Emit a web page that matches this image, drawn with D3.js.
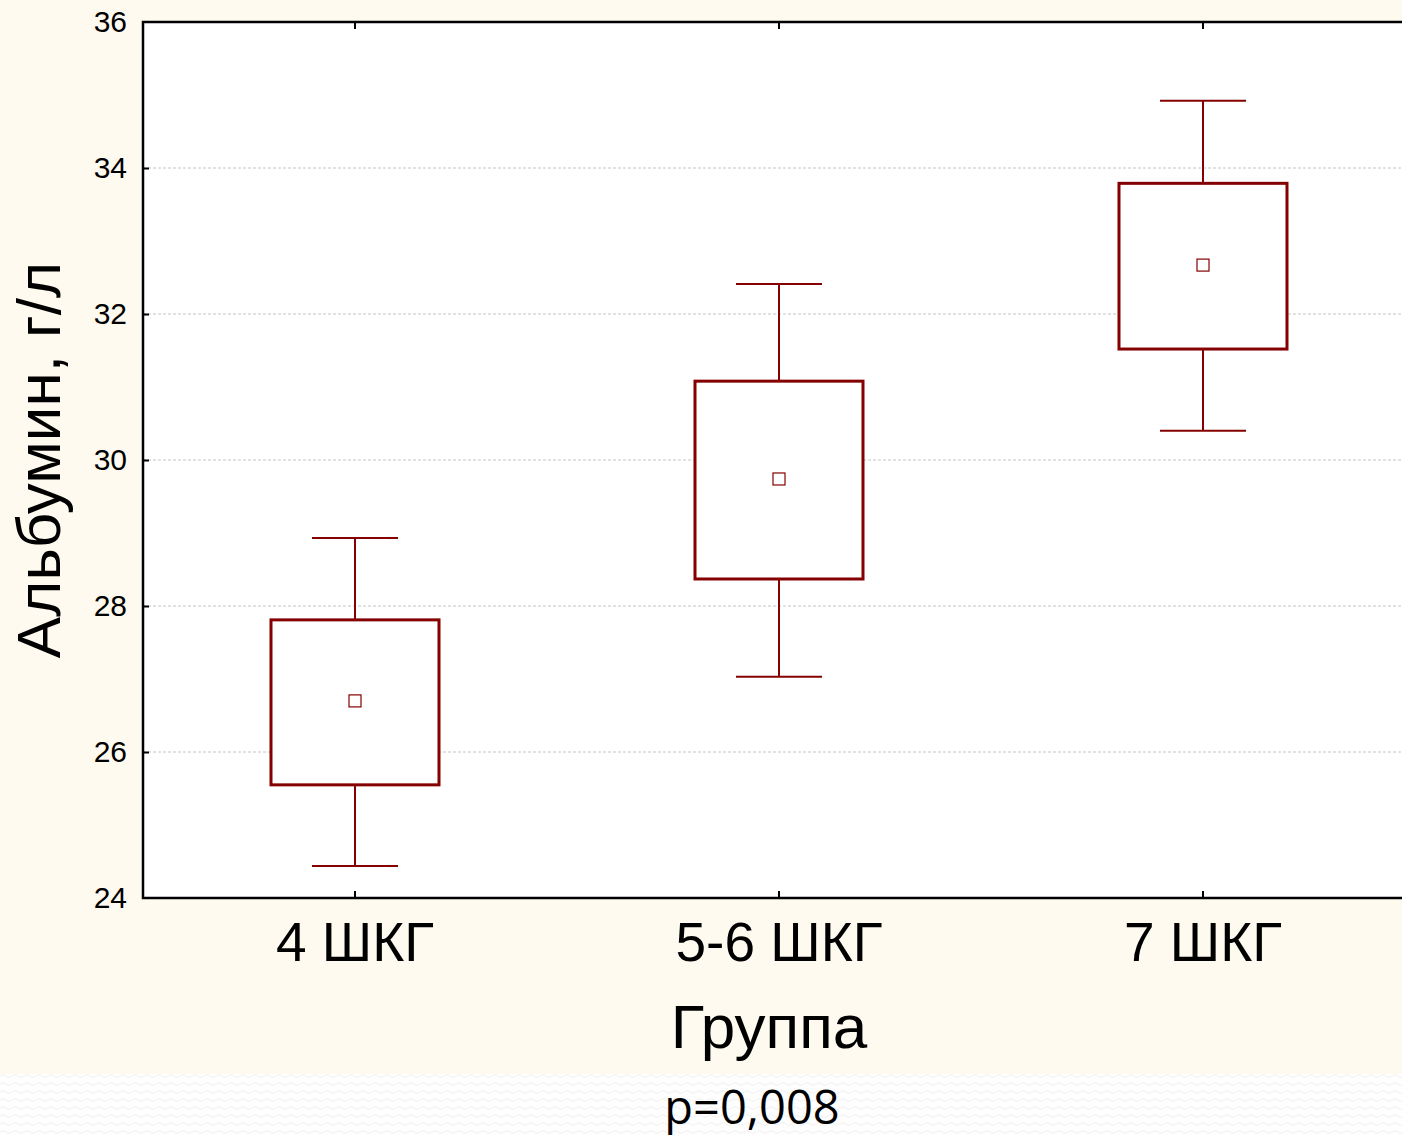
<!DOCTYPE html>
<html>
<head>
<meta charset="utf-8">
<script src="https://cdn.jsdelivr.net/npm/d3@7"></script>
<style>
  html, body { margin: 0; padding: 0; background: #fdfdfd; }
  svg { display: block; }
</style>
</head>
<body>
<svg id="chart" width="1402" height="1135"></svg>
<script>
// Albumin by group: mean, box = mean ± SE, whiskers = mean ± 1.96*SE
const groups = ["4 ШКГ", "5-6 ШКГ", "7 ШКГ"];
const means = [26.70, 29.74, 32.67];
const boxLow = [25.55, 28.37, 31.52];
const boxHigh = [27.81, 31.08, 33.79];
const whiskerLow = [24.44, 27.03, 30.40];
const whiskerHigh = [28.93, 32.41, 34.92];
const yTicks = [24, 26, 28, 30, 32, 34, 36];

const W = 1402, H = 1135;
const plot = { left: 143, top: 22, right: 1415, bottom: 898 };
const markColor = "#850000";

const svg = d3.select("#chart");

// page backgrounds
const defs = svg.append("defs");
const pat = defs.append("pattern").attr("id", "wave").attr("patternUnits", "userSpaceOnUse")
  .attr("width", 12).attr("height", 8);
pat.append("rect").attr("width", 12).attr("height", 8).attr("fill", "#fefefe");
pat.append("path").attr("d", "M0,4 Q3,1 6,4 T12,4").attr("fill", "none")
  .attr("stroke", "#f1f1f1").attr("stroke-width", 1);
svg.append("rect").attr("x", 0).attr("y", 0).attr("width", W).attr("height", H).attr("fill", "url(#wave)");
svg.append("rect").attr("x", 0).attr("y", 0).attr("width", W).attr("height", 1074).attr("fill", "#fffaef");

const x = d3.scaleBand().domain(groups).range([plot.left, plot.right]).paddingInner(0).paddingOuter(0);
const y = d3.scaleLinear().domain([24, 36]).range([plot.bottom, plot.top]);

// plot area
svg.append("rect").attr("x", plot.left).attr("y", plot.top)
  .attr("width", plot.right - plot.left).attr("height", plot.bottom - plot.top).attr("fill", "#ffffff");

// gridlines
svg.append("g").selectAll("line").data(yTicks.slice(1, -1)).join("line")
  .attr("x1", plot.left).attr("x2", plot.right)
  .attr("y1", d => y(d)).attr("y2", d => y(d))
  .attr("stroke", "#c4c4c4").attr("stroke-width", 1).attr("stroke-dasharray", "3,2");

// axes
const axisStyle = g => {
  g.select(".domain").remove();
  g.selectAll(".tick line").attr("stroke", "#000").attr("stroke-width", 2);
  g.selectAll(".tick text").attr("fill", "#000").attr("font-family", "Liberation Sans, Arial, sans-serif");
};

svg.append("g").attr("transform", `translate(${plot.left},0)`)
  .call(d3.axisLeft(y).tickValues(yTicks).tickSize(-6).tickPadding(16).tickFormat(d3.format("d")))
  .call(axisStyle)
  .call(g => g.selectAll(".tick text").attr("font-size", 30).attr("dy", "0.32em"))
  .call(g => g.selectAll(".tick").filter(d => d === 24 || d === 36).select("line").remove());

svg.append("g").attr("transform", `translate(0,${plot.bottom})`)
  .call(d3.axisBottom(x).tickSize(-7).tickPadding(24))
  .call(axisStyle)
  .call(g => g.selectAll(".tick text").attr("font-size", 55).attr("dy", "0.71em"));

svg.append("g").attr("transform", `translate(0,${plot.top})`)
  .call(d3.axisTop(x).tickSize(-7).tickFormat(""))
  .call(axisStyle);

// frame
svg.append("path")
  .attr("d", `M${plot.right},${plot.top}H${plot.left}V${plot.bottom}H${plot.right}`)
  .attr("fill", "none").attr("stroke", "#000").attr("stroke-width", 2.5);

// boxes and whiskers
const boxW = 168, capW = 86;
const g = svg.append("g").selectAll("g").data(groups).join("g")
  .attr("transform", d => `translate(${x(d) + x.bandwidth() / 2},0)`);

g.append("line").attr("x1", 0).attr("x2", 0)
  .attr("y1", (d, i) => y(whiskerHigh[i])).attr("y2", (d, i) => y(boxHigh[i]))
  .attr("stroke", markColor).attr("stroke-width", 2);
g.append("line").attr("x1", 0).attr("x2", 0)
  .attr("y1", (d, i) => y(boxLow[i])).attr("y2", (d, i) => y(whiskerLow[i]))
  .attr("stroke", markColor).attr("stroke-width", 2);
g.append("line").attr("x1", -capW / 2).attr("x2", capW / 2)
  .attr("y1", (d, i) => y(whiskerHigh[i])).attr("y2", (d, i) => y(whiskerHigh[i]))
  .attr("stroke", markColor).attr("stroke-width", 2);
g.append("line").attr("x1", -capW / 2).attr("x2", capW / 2)
  .attr("y1", (d, i) => y(whiskerLow[i])).attr("y2", (d, i) => y(whiskerLow[i]))
  .attr("stroke", markColor).attr("stroke-width", 2);
g.append("rect").attr("x", -boxW / 2).attr("width", boxW)
  .attr("y", (d, i) => y(boxHigh[i])).attr("height", (d, i) => y(boxLow[i]) - y(boxHigh[i]))
  .attr("fill", "#ffffff").attr("stroke", markColor).attr("stroke-width", 3);
g.append("rect").attr("x", -6).attr("width", 12)
  .attr("y", (d, i) => y(means[i]) - 6).attr("height", 12)
  .attr("fill", "#ffffff").attr("stroke", markColor).attr("stroke-width", 1.2);

// titles
svg.append("text").attr("x", 769).attr("y", 1048).attr("text-anchor", "middle")
  .attr("font-family", "Liberation Sans, Arial, sans-serif").attr("font-size", 62).attr("fill", "#000")
  .text("Группа");
svg.append("text").attr("transform", "translate(60,460) rotate(-90)").attr("text-anchor", "middle")
  .attr("font-family", "Liberation Sans, Arial, sans-serif").attr("font-size", 62).attr("fill", "#000")
  .text("Альбумин, г/л");
svg.append("text").attr("x", 752).attr("y", 1124).attr("text-anchor", "middle")
  .attr("font-family", "Open Sans, Liberation Sans, sans-serif").attr("font-size", 47).attr("fill", "#000")
  .text("p=0,008");
</script>
</body>
</html>
